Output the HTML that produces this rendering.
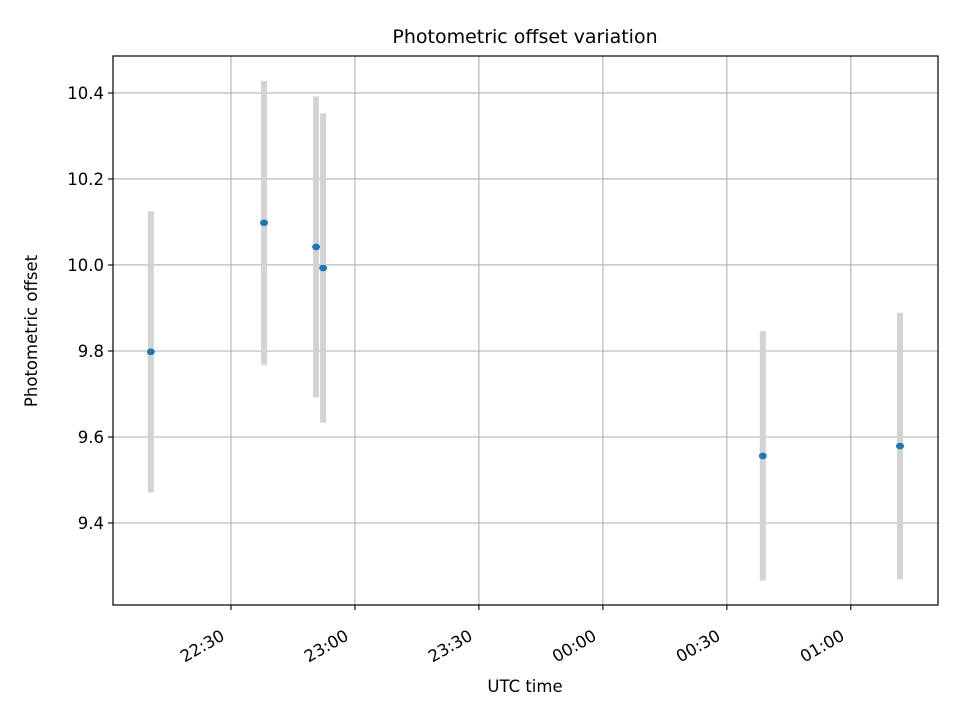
<!DOCTYPE html>
<html><head><meta charset="utf-8"><style>
body{margin:0;background:#fff;}
svg text{font-family:"DejaVu Sans","Liberation Sans",sans-serif;fill:#000;}
</style></head><body>
<svg id="chart" width="960" height="720" xmlns="http://www.w3.org/2000/svg">
<rect width="960" height="720" fill="#fff"/>
<g id="grid"></g>
<g id="bars"></g>
<g id="pts"></g>
<rect x="113" y="56" width="825" height="549" fill="none" stroke="#000" stroke-width="1.2"/>
<g id="ticks"></g>
<text x="525" y="43" font-size="19" text-anchor="middle">Photometric offset variation</text>
<text x="525" y="692" font-size="16.5" text-anchor="middle">UTC time</text>
<text transform="translate(37,331) rotate(-90)" font-size="16.5" text-anchor="middle">Photometric offset</text>
</svg>
<script>
// minutes since 22:00 UTC
const times=[10.6,38,50.6,52.3,158.7,191.9];
const offsets=[9.798,10.098,10.042,9.993,9.556,9.579];
const errors=[0.327,0.33,0.35,0.36,0.29,0.31];
const yTicks=[9.4,9.6,9.8,10.0,10.2,10.4];
const yTickLabels=["9.4","9.6","9.8","10.0","10.2","10.4"];
const xTicks=[30,60,90,120,150,180];
const xTickLabels=["22:30","23:00","23:30","00:00","00:30","01:00"];
const L=113,R=938,T=56,B=605;
const xMin=1.45,xMax=201.1,yMin=9.2093,yMax=10.486;
const xs=v=>L+(v-xMin)/(xMax-xMin)*(R-L);
const ys=v=>B-(v-yMin)/(yMax-yMin)*(B-T);
const NS="http://www.w3.org/2000/svg";
function mk(p,tag,a){const e=document.createElementNS(NS,tag);for(const k in a)e.setAttribute(k,a[k]);p.appendChild(e);return e;}
const grid=document.getElementById('grid'),ticks=document.getElementById('ticks'),bars=document.getElementById('bars'),pts=document.getElementById('pts');
yTicks.forEach((v,i)=>{const y=ys(v);
 const g=mk(grid,'line',{x1:L,x2:R,y1:y,y2:y,stroke:'#b0b0b0','stroke-width':1.1});
 
 const t=mk(ticks,'line',{x1:L-5,x2:L,y1:y,y2:y,stroke:'#000','stroke-width':1.1});
 
 const tx=mk(ticks,'text',{x:L-9,y:y+6,'font-size':16.5,'text-anchor':'end'});tx.textContent=yTickLabels[i];
 
});
xTicks.forEach((v,i)=>{const x=xs(v);
 const g=mk(grid,'line',{x1:x,x2:x,y1:T,y2:B,stroke:'#b0b0b0','stroke-width':1.1});
 
 const t=mk(ticks,'line',{x1:x,x2:x,y1:B,y2:B+5,stroke:'#000','stroke-width':1.1});
 
 const tx=mk(ticks,'text',{transform:`translate(${x-11},${B+24}) rotate(-30)`,'font-size':16.5,'text-anchor':'end',dy:'0.7em'});tx.textContent=xTickLabels[i];
 
});
times.forEach((t,i)=>{const x=xs(t);
 const b=mk(bars,'line',{x1:x,x2:x,y1:ys(offsets[i]+errors[i]),y2:ys(offsets[i]-errors[i]),stroke:'#d3d3d3','stroke-width':6});
 
 const p=mk(pts,'ellipse',{cx:x,cy:ys(offsets[i]),rx:4,ry:3.3,fill:'#1f77b4'});
 
});
</script>
</body></html>
